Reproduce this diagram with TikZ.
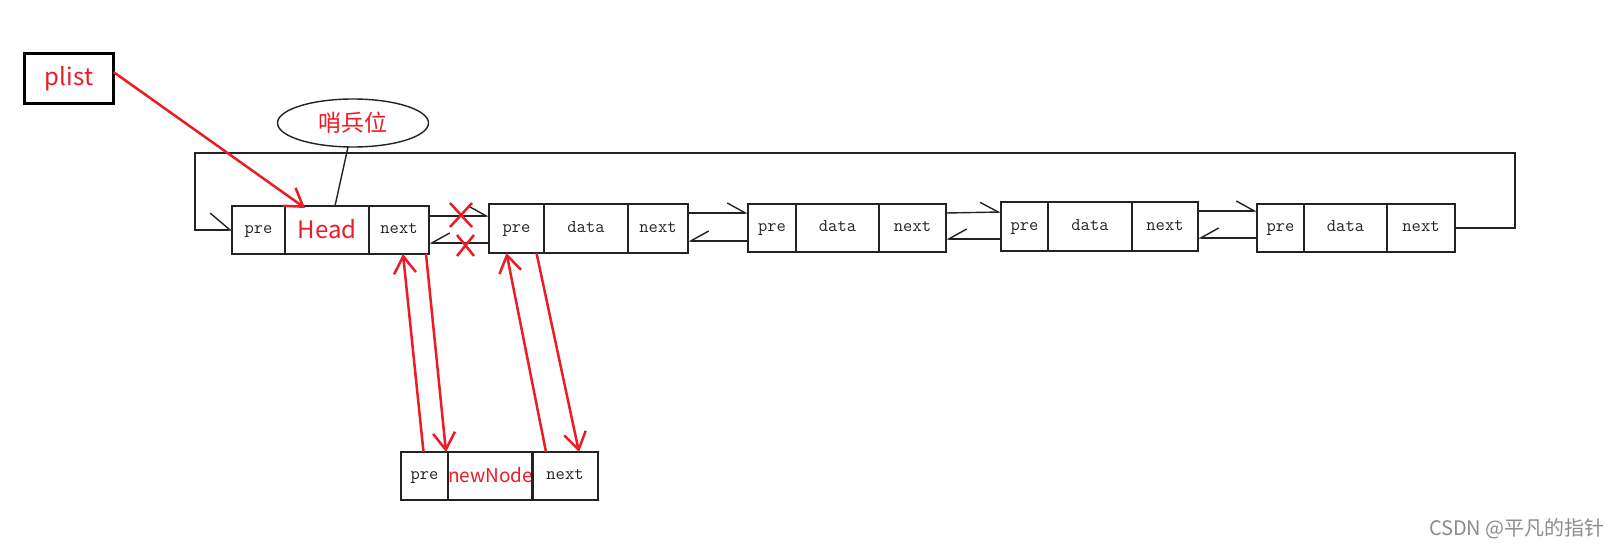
\documentclass[tikz,border=0pt]{standalone}
\usepackage{fontspec}
\newfontfamily\cjk{Noto Sans CJK SC}
\usetikzlibrary{arrows.meta,shapes.geometric,calc}
\definecolor{pred}{RGB}{237,28,36}
\definecolor{lk}{RGB}{35,35,35}
\begin{document}
\begin{tikzpicture}[x=1pt,y=-1pt,
  cell/.style={draw=lk,line width=1.4pt,inner sep=0pt,outer sep=0pt,anchor=north west,text=lk,text height=7.7pt,text depth=0pt,font=\fontsize{18}{18}\ttfamily\addfontfeatures{FakeBold=0.4}},
  redtext/.style={text=pred,font=\cjk\fontsize{#1}{#1}\selectfont},
  link/.style={draw=lk,line width=1.4pt},
  upbarb/.style={-{Straight Barb[left,length=18pt,width=20pt]}},
  lowbarb/.style={-{Straight Barb[right,length=18pt,width=20pt]}},
  redline/.style={draw=pred,line width=2.5pt},
  redarrow/.style={redline,-{Straight Barb[length=17pt,width=22pt]}}
]
\fill[white] (0,0) rectangle (1620,546);
\useasboundingbox (0,0) rectangle (1620,546);

% plist box
\node[draw=black,line width=3pt,minimum width=89,minimum height=50,inner sep=0pt,outer sep=0pt,redtext=24] (plist) at (69,78.5) {plist};

% sentinel ellipse
\node[ellipse,draw=lk,line width=1.4pt,minimum width=151,minimum height=48,inner sep=0pt,outer sep=0pt,redtext=23] (sent) at (353,123) {哨兵位};

% head node
\node[cell,minimum width=53,minimum height=48] (h1) at (232,206) {pre};
\node[cell,minimum width=84,minimum height=48,redtext=24,text height=17.5pt] (h2) at (285,206) {Head};
\node[cell,minimum width=60,minimum height=48] (h3) at (369,206) {next};

% node 2
\node[cell,minimum width=55,minimum height=49] (a2) at (489,204) {pre};
\node[cell,minimum width=84,minimum height=49] (b2) at (544,204) {data};
\node[cell,minimum width=60,minimum height=49] (c2) at (628,204) {next};

% node 3
\node[cell,minimum width=48,minimum height=48] (a3) at (748,204) {pre};
\node[cell,minimum width=83,minimum height=48] (b3) at (796,204) {data};
\node[cell,minimum width=67,minimum height=48] (c3) at (879,204) {next};

% node 4
\node[cell,minimum width=47,minimum height=49] (a4) at (1001,202) {pre};
\node[cell,minimum width=84,minimum height=49] (b4) at (1048,202) {data};
\node[cell,minimum width=66,minimum height=49] (c4) at (1132,202) {next};

% node 5
\node[cell,minimum width=47,minimum height=48] (a5) at (1257,204) {pre};
\node[cell,minimum width=83,minimum height=48] (b5) at (1304,204) {data};
\node[cell,minimum width=68,minimum height=48] (c5) at (1387,204) {next};

% new node
\node[cell,minimum width=47,minimum height=48] (na) at (401,452) {pre};
\node[cell,minimum width=84,minimum height=48,redtext=19,text height=13.9pt] (nb) at (448,452) {newNode};
\node[cell,minimum width=66,minimum height=48] (nc) at (532,452) {next};

% sentinel label line
\draw[link] ([xshift=-5]sent.south) -- ([xshift=8]h2.north);

% links
\draw[link,upbarb] ([yshift=14]h3.east) -- ([yshift=12.5]a2.west);
\draw[link,lowbarb] ([yshift=-14.5]a2.west) -- ([yshift=-13]h3.east);
\draw[link,upbarb] ([yshift=15.5]c2.east) -- ([yshift=15]a3.west);
\draw[link,lowbarb] ([yshift=-13]a3.west) -- ([yshift=-12.5]c2.east);
\draw[link,upbarb] ([yshift=15]c3.east) -- ([yshift=14.5]a4.west);
\draw[link,lowbarb] ([yshift=-12.5]a4.west) -- ([yshift=-11]c3.east);
\draw[link,upbarb] ([yshift=15.5]c4.east) -- ([yshift=17]a5.west);
\draw[link,lowbarb] ([yshift=-10]a5.west) -- ([yshift=-11.5]c4.east);

% loop back
\coordinate (lr) at (1515,153);
\coordinate (ll) at (195,153);
\draw[link,-{Straight Barb[left,length=20pt,width=34pt]}] (c5.east) -| (lr) -- (ll) |- (h1.west);

% plist pointer
\draw[redarrow] ([yshift=6.5]plist.east) -- ([xshift=20,yshift=-2]h2.north west);

% red insertion arrows
\draw[redarrow] ([xshift=-1]na.north) -- ([xshift=4]h3.south);
\draw[redarrow] ([xshift=27]h3.south) -- ([xshift=-2]na.north east);
\draw[redarrow] ([xshift=14]nc.north west) -- ([xshift=-10]a2.south);
\draw[redarrow] ([xshift=20]a2.south) -- ([xshift=14]nc.north);

% red crosses
\draw[redline] (450,203) -- (472,227) (450,227) -- (472,203);
\draw[redline] (457,235) -- (474,256) (457,256) -- (474,235);

% watermark
\node[anchor=east,inner sep=0pt,text=black!45,font=\cjk\fontsize{20}{20}\selectfont] (wm) at (1605,529) {CSDN @平凡的指针};
\end{tikzpicture}
\end{document}
